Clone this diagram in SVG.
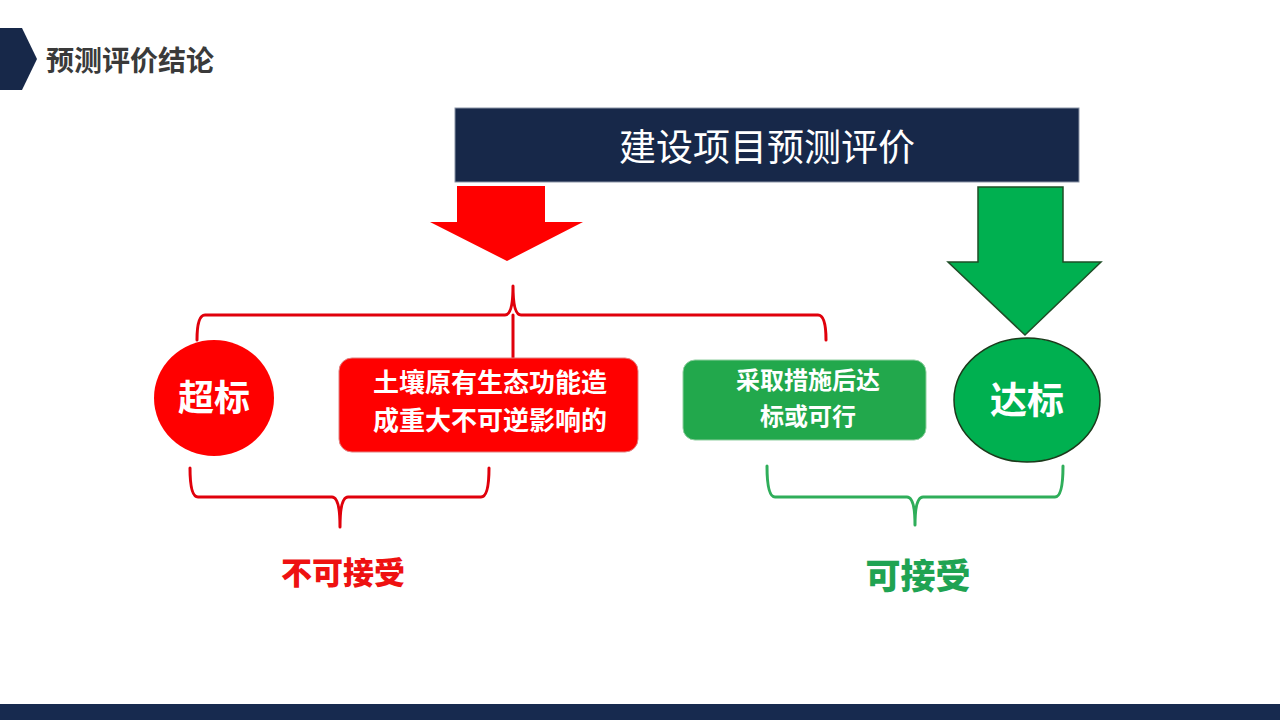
<svg xmlns="http://www.w3.org/2000/svg" width="1280" height="720" viewBox="0 0 1280 720">
<style>
  .cjk { font-family: "Noto Sans CJK SC", "Noto Sans", sans-serif; }
  .wb { fill: #ffffff; font-weight: 700; text-anchor: middle; }
  .rb { fill: none; stroke: #e0000b; stroke-width: 3; stroke-linejoin: round; stroke-linecap: round; }
  .gb { fill: none; stroke: #2fae5a; stroke-width: 3; stroke-linejoin: round; stroke-linecap: round; }
</style>
<rect width="1280" height="720" fill="#ffffff"/>
<g id="header">
  <polygon points="0,28 22,28 37,59 22,90 0,90" fill="#172849"/>
  <text x="46" y="71" class="cjk" font-size="28" font-weight="700" fill="#3a3a3a">预测评价结论</text>
</g>
<g id="footer">
  <rect x="0" y="704" width="1280" height="16" fill="#172a4f"/>
</g>
<g id="title-box">
  <rect x="455" y="108" width="624" height="74" fill="#172849" stroke="#8a93a6" stroke-width="1"/>
  <text x="767" y="161" class="cjk" font-size="37" fill="#ffffff" text-anchor="middle">建设项目预测评价</text>
</g>
<g id="connectors">
  <polygon id="red-arrow" points="457,186 545,186 545,222 583,222 507,261 430,222 457,222" fill="#ff0000"/>
  <polygon id="green-arrow" points="978,187 1063,187 1063,262 1101,262 1025,335 948,262 978,262" fill="#00b050" stroke="#1e4d26" stroke-width="1.5"/>
  <path class="rb" d="M197,340 Q197,315 205,315 L505,315 Q513,315 513,286 Q513,315 521,315 L818,315 Q826,315 826,340"/>
  <line class="rb" x1="513" y1="315" x2="513" y2="358"/>
  <path class="rb" d="M190,468 Q190,497 198,497 L332,497 Q340,497 340,527 Q340,497 348,497 L481,497 Q489,497 489,468"/>
  <path class="gb" d="M767,466 Q767,497 775,497 L907,497 Q915,497 915,525 Q915,497 923,497 L1055,497 Q1063,497 1063,466"/>
</g>
<g id="node-chaobiao">
  <ellipse cx="214" cy="398" rx="60" ry="58" fill="#ff0000"/>
  <text x="214" y="411" class="cjk wb" font-size="36">超标</text>
</g>
<g id="node-red-box">
  <rect x="339" y="358" width="299" height="94" rx="13" fill="#ff0000" stroke="#e08080" stroke-width="1"/>
  <text x="490" y="392" class="cjk wb" font-size="26">土壤原有生态功能造</text>
  <text x="490" y="430" class="cjk wb" font-size="26">成重大不可逆影响的</text>
</g>
<g id="node-green-box">
  <rect x="683" y="360" width="243" height="80" rx="12" fill="#22a84c" stroke="#8fcf9f" stroke-width="1"/>
  <text x="808" y="389" class="cjk wb" font-size="24">采取措施后达</text>
  <text x="808" y="425" class="cjk wb" font-size="24">标或可行</text>
</g>
<g id="node-dabiao">
  <ellipse cx="1027" cy="400" rx="73" ry="62" fill="#00b050" stroke="#1b3a1b" stroke-width="1.5"/>
  <text x="1027" y="414" class="cjk wb" font-size="37">达标</text>
</g>
<g id="label-unacceptable">
  <text x="343" y="584" class="cjk" font-size="31" font-weight="900" fill="#ee1111" text-anchor="middle">不可接受</text>
</g>
<g id="label-acceptable">
  <text x="918" y="589" class="cjk" font-size="35" font-weight="900" fill="#1fa352" text-anchor="middle">可接受</text>
</g>
</svg>
